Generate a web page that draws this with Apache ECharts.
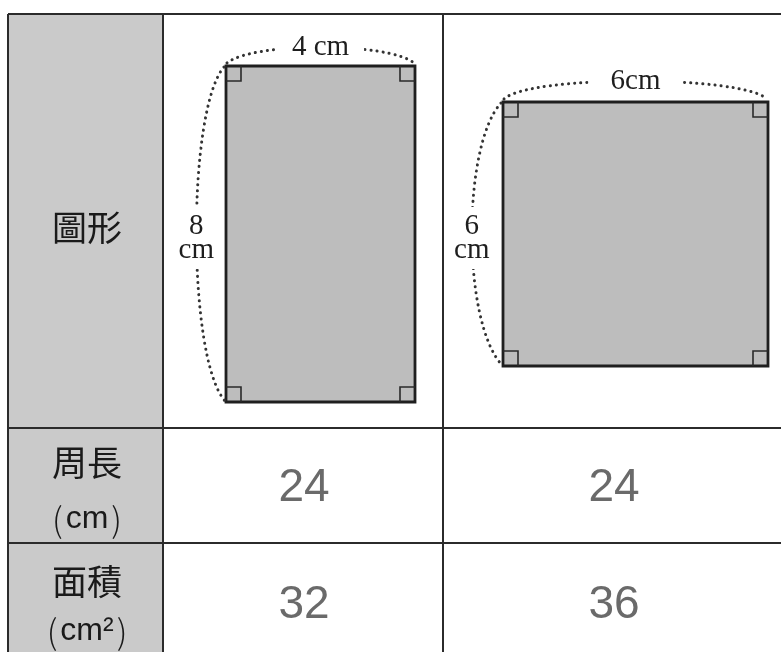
<!DOCTYPE html>
<html><head><meta charset="utf-8">
<script src="https://cdn.jsdelivr.net/npm/echarts@6/dist/echarts.min.js"></script>
<style>html,body{margin:0;padding:0;background:#fff}#c{width:781px;height:652px}</style>
</head><body><div id="c"></div>
<script>
// ---- data ----
const rowLabels = ['圖形', '周長', '面積'];
const rowUnits = ['', 'cm', 'cm²'];
const shapeWidths = [4, 6];
const shapeHeights = [8, 6];
const widthLabels = ['4 cm', '6cm'];
const heightLabels = ['8\ncm', '6\ncm'];
const perimeters = [24, 24];
const areas = [32, 36];

// ---- layout (pixels) ----
const W = 781, H = 652;
const tableLeft = 8, tableTop = 14, headerRight = 163, colDivider = 443;
const rowLines = [428, 543];
const headerX = 87;
const colCenters = [304, 614];
const labelY = [228, 463, 582];
const unitY = [0, 519, 631];
const valueY = [488, 605];
const shapeGrids = [
  {left: 226, top: 66, width: 189, height: 336},
  {left: 503, top: 102, width: 265, height: 264}
];
const topBow = [21, 24];
const sideBow = [37, 39];
const topLabelPad = [15, 22];

const LINE = '#2b2b2b';
const DOT = {stroke: '#333', lineWidth: 3, lineDash: [0.1, 6], lineCap: 'round', fill: null};
const CJK = '"Noto Sans CJK TC", "Noto Sans CJK SC", sans-serif';
const NARROW = '"Liberation Sans Narrow", "Liberation Sans", Arial, sans-serif';
const SERIF = '"Liberation Serif", "DejaVu Serif", serif';

const chart = echarts.init(document.getElementById('c'));

function frameRender(params, api) {
  const p = (x, y) => api.coord([x, y]);
  const children = [];
  const a = p(tableLeft, tableTop), b = p(headerRight, H);
  children.push({type: 'rect', shape: {x: a[0], y: a[1], width: b[0] - a[0], height: b[1] - a[1]},
    style: {fill: '#cacaca'}});
  const lines = [
    [tableLeft, tableTop, W, tableTop],
    [tableLeft, rowLines[0], W, rowLines[0]],
    [tableLeft, rowLines[1], W, rowLines[1]],
    [tableLeft, tableTop, tableLeft, H],
    [headerRight, tableTop, headerRight, H],
    [colDivider, tableTop, colDivider, H]
  ];
  lines.forEach(l => {
    const s = p(l[0], l[1]), e = p(l[2], l[3]);
    children.push({type: 'line', shape: {x1: s[0], y1: s[1], x2: e[0], y2: e[1]},
      style: {stroke: LINE, lineWidth: 2}});
  });
  // row headers
  rowLabels.forEach((t, i) => {
    const c = p(headerX, labelY[i]);
    children.push({type: 'text', x: c[0], y: c[1], style: {text: t, align: 'center', verticalAlign: 'middle',
      font: '35px ' + CJK, fill: '#1a1a1a'}});
    if (rowUnits[i]) {
      const u = p(headerX, unitY[i]);
      children.push({type: 'text', x: u[0], y: u[1], style: {
        text: '{p|(}{c|' + rowUnits[i] + '}{p|)}', align: 'center', verticalAlign: 'middle',
        rich: {p: {font: '300 34px ' + CJK, fill: '#1a1a1a', padding: [0, 3, 0, 3]},
               c: {font: '32px ' + NARROW, fill: '#1a1a1a'}}}});
    }
  });
  return {type: 'group', children};
}

function valuesRender(params, api) {
  const c = api.coord([api.value(0), api.value(1)]);
  return {type: 'text', x: c[0], y: c[1], style: {text: String(api.value(2)), align: 'center',
    verticalAlign: 'middle', font: '46px ' + NARROW, fill: '#6a6a6a'}};
}

function shapeRender(k) {
  return function (params, api) {
    const w = api.value(0), h = api.value(1);
    const bl = api.coord([0, 0]), tr = api.coord([w, h]);
    const x0 = bl[0], y1 = bl[1], x1 = tr[0], y0 = tr[1];
    const children = [];
    children.push({type: 'rect', shape: {x: x0, y: y0, width: x1 - x0, height: y1 - y0},
      style: {fill: '#bdbdbd', stroke: '#1f1f1f', lineWidth: 2.8}});
    const m = 15;
    [[x0, y0, 1, 1], [x1, y0, -1, 1], [x0, y1, 1, -1], [x1, y1, -1, -1]].forEach(q => {
      children.push({type: 'polyline', shape: {points: [[q[0] + q[2] * m, q[1]], [q[0] + q[2] * m, q[1] + q[3] * m], [q[0], q[1] + q[3] * m]]},
        style: {stroke: '#2a2a2a', lineWidth: 1.6, fill: null}});
    });
    const tb = topBow[k];
    children.push({type: 'bezierCurve', shape: {x1: x0 + 1, y1: y0 - 3, cpx1: x0 + 26, cpy1: y0 - 3 - tb,
      cpx2: x1 - 26, cpy2: y0 - 3 - tb, x2: x1 - 1, y2: y0 - 3}, style: DOT});
    const sb = sideBow[k];
    children.push({type: 'bezierCurve', shape: {x1: x0 - 2, y1: y0 + 1, cpx1: x0 - 2 - sb, cpy1: y0 + 44,
      cpx2: x0 - 2 - sb, cpy2: y1 - 44, x2: x0 - 1, y2: y1 - 1}, style: DOT});
    const topY = y0 - 3 - 0.75 * tb;
    children.push({type: 'text', x: (x0 + x1) / 2, y: topY, z2: 10, style: {text: widthLabels[k], align: 'center',
      verticalAlign: 'middle', font: '29px ' + SERIF, fill: '#1e1e1e', backgroundColor: '#fff',
      padding: [2, topLabelPad[k], 2, topLabelPad[k]]}});
    const sideX = x0 - 2 - 0.75 * sb;
    children.push({type: 'text', x: sideX, y: (y0 + y1) / 2 + 4, z2: 10, style: {text: heightLabels[k], align: 'center',
      verticalAlign: 'middle', font: '29px ' + SERIF, lineHeight: 24, fill: '#1e1e1e', backgroundColor: '#fff',
      padding: [6, 2, 8, 2]}});
    return {type: 'group', children};
  };
}

const valueData = [];
perimeters.forEach((v, i) => valueData.push([colCenters[i], valueY[0], v]));
areas.forEach((v, i) => valueData.push([colCenters[i], valueY[1], v]));

chart.setOption({
  animation: false,
  backgroundColor: '#fff',
  grid: [
    {left: 0, top: 0, width: W, height: H},
    shapeGrids[0], shapeGrids[1]
  ],
  xAxis: [
    {type: 'value', gridIndex: 0, min: 0, max: W, show: false},
    {type: 'value', gridIndex: 1, min: 0, max: shapeWidths[0], show: false},
    {type: 'value', gridIndex: 2, min: 0, max: shapeWidths[1], show: false}
  ],
  yAxis: [
    {type: 'value', gridIndex: 0, min: 0, max: H, inverse: true, show: false},
    {type: 'value', gridIndex: 1, min: 0, max: shapeHeights[0], show: false},
    {type: 'value', gridIndex: 2, min: 0, max: shapeHeights[1], show: false}
  ],
  series: [
    {type: 'custom', xAxisIndex: 0, yAxisIndex: 0, data: [[0, 0]], renderItem: frameRender, silent: true, z: 1},
    {type: 'custom', xAxisIndex: 0, yAxisIndex: 0, data: valueData, renderItem: valuesRender, silent: true, z: 3},
    {type: 'custom', xAxisIndex: 1, yAxisIndex: 1, data: [[shapeWidths[0], shapeHeights[0]]], renderItem: shapeRender(0), silent: true, z: 2},
    {type: 'custom', xAxisIndex: 2, yAxisIndex: 2, data: [[shapeWidths[1], shapeHeights[1]]], renderItem: shapeRender(1), silent: true, z: 2}
  ]
});
</script>
</body></html>
